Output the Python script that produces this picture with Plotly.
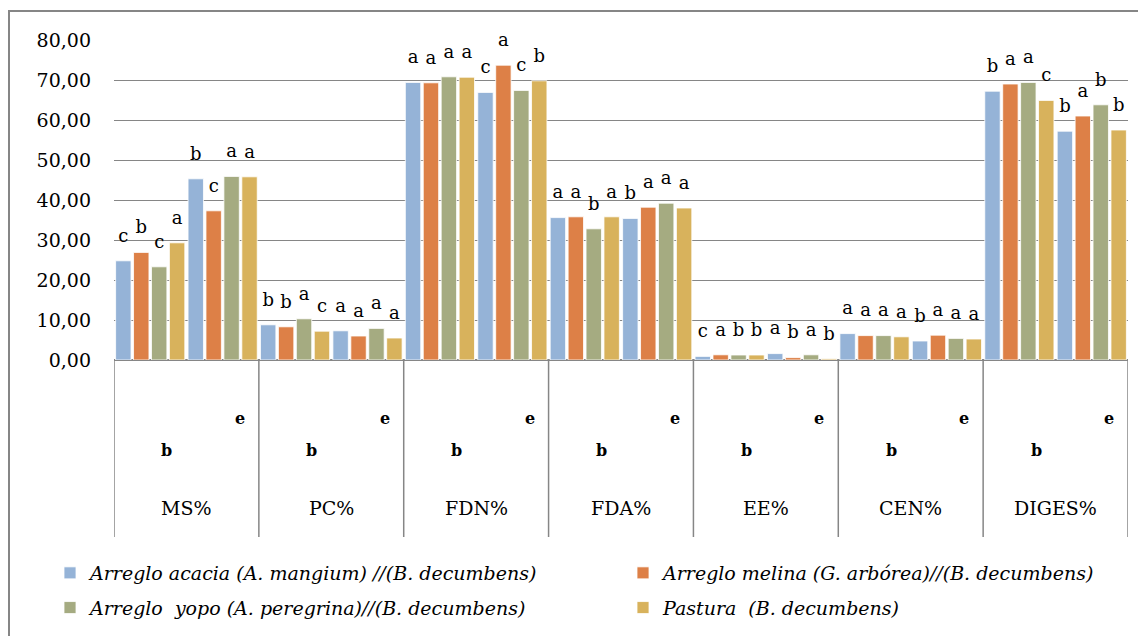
import plotly.graph_objects as go

# ---------------- data ----------------
categories = ["MS%", "PC%", "FDN%", "FDA%", "EE%", "CEN%", "DIGES%"]
periods = ["I", "II"]
series_names = [
    "Arreglo acacia (A. mangium) //(B. decumbens)",
    "Arreglo melina (G. arbórea)//(B. decumbens)",
    "Arreglo  yopo (A. peregrina)//(B. decumbens)",
    "Pastura  (B. decumbens)",
]
series_colors = ["#95B3D7", "#DD8047", "#A5AB81", "#D8B25C"]

# values per slot: MS I, MS II, PC I, PC II, ...
acacia = [24.8, 45.3, 8.8, 7.3, 69.4, 66.9, 35.6, 35.4, 0.9, 1.6, 6.6, 4.75, 67.2, 57.2]
melina = [26.9, 37.3, 8.3, 6.0, 69.3, 73.7, 35.8, 38.2, 1.3, 0.6, 6.1, 6.2, 69.0, 61.0]
yopo = [23.3, 45.9, 10.3, 7.9, 70.8, 67.4, 32.8, 39.2, 1.25, 1.3, 6.1, 5.4, 69.4, 63.8]
pastura = [29.3, 45.8, 7.2, 5.5, 70.7, 69.8, 35.8, 38.0, 1.25, 0.3, 5.8, 5.25, 64.9, 57.5]

acacia_letters = ["c", "b", "b", "a", "a", "c", "a", "b", "c", "a", "a", "b", "b", "b"]
melina_letters = ["b", "c", "b", "a", "a", "a", "a", "a", "a", "b", "a", "a", "a", "a"]
yopo_letters = ["c", "a", "a", "a", "a", "c", "b", "a", "b", "a", "a", "a", "a", "b"]
pastura_letters = ["a", "a", "c", "a", "a", "b", "a", "a", "b", "b", "a", "a", "c", "b"]

sub_labels = ["b", "e"]

y_tickvals = [0, 10, 20, 30, 40, 50, 60, 70, 80]
y_ticktext = ["0,00", "10,00", "20,00", "30,00", "40,00", "50,00", "60,00", "70,00", "80,00"]

slots = [f"{c} {p}" for c in categories for p in periods]
all_values = [acacia, melina, yopo, pastura]
all_letters = [acacia_letters, melina_letters, yopo_letters, pastura_letters]

SERIF = "DejaVu Serif"
GREY = "#868686"

# page offset (body margin) compensation
OFF = 8
W, H = 1146 - OFF, 636 - OFF
L, T = 114 - OFF, 40 - OFF
R = 1146 - 1128
B = 636 - 360
pw, ph = W - L - R, H - T - B


def px_x(page_px):
    return (page_px - OFF - L) / pw


def px_y(page_py):
    return (T + ph - (page_py - OFF)) / ph


fig = go.Figure()
legends = ["legend", "legend2", "legend", "legend2"]
for i, (name, color, vals, letters) in enumerate(zip(series_names, series_colors, all_values, all_letters)):
    fig.add_trace(go.Bar(
        x=slots, y=vals, name=name, offsetgroup=f"g{i}",
        marker=dict(color=color, line=dict(color="white", width=0.8)),
        legend=legends[i], legendgroup=f"lg{i}",
        hoverinfo="x+y+name",
    ))
for i, (vals, letters) in enumerate(zip(all_values, all_letters)):
    fig.add_trace(go.Scatter(
        x=slots, y=vals, offsetgroup=f"g{i}", mode="markers+text",
        text=letters, textposition="top center",
        marker=dict(size=22, opacity=0, color="black"),
        textfont=dict(family=SERIF, size=18, color="black"),
        showlegend=False, hoverinfo="skip", cliponaxis=False,
    ))

shapes = []
# outer frame
shapes.append(dict(type="rect", xref="paper", yref="paper",
                   x0=px_x(9), x1=px_x(1170), y0=px_y(660), y1=px_y(11),
                   line=dict(color=GREY, width=2), layer="below"))
# table vertical lines below the axis
for k in range(len(categories) + 1):
    xb = -0.5 + 2 * k
    shapes.append(dict(type="line", xref="x", yref="paper",
                       x0=xb, x1=xb, y0=0, y1=px_y(537),
                       line=dict(color=GREY, width=1.5)))

annotations = []
for k, c in enumerate(categories):
    annotations.append(dict(x=2 * k + 0.5, y=px_y(508), xref="x", yref="paper",
                            xanchor="center", yanchor="middle",
                            text=c, showarrow=False,
                            font=dict(family=SERIF, size=19, color="black")))
    # sub-level labels
    annotations.append(dict(x=2 * k + 0.23, y=px_y(450), xref="x", yref="paper",
                            xanchor="center", yanchor="middle",
                            text=f"<b>{sub_labels[0]}</b>", showarrow=False,
                            font=dict(family=SERIF, size=16, color="black")))
    annotations.append(dict(x=2 * k + 1.24, y=px_y(418), xref="x", yref="paper",
                            xanchor="center", yanchor="middle",
                            text=f"<b>{sub_labels[1]}</b>", showarrow=False,
                            font=dict(family=SERIF, size=16, color="black")))

legend_font = dict(family=SERIF, size=19, color="black", style="italic")
fig.update_layout(
    width=W, height=H,
    margin=dict(l=L, r=R, t=T, b=B, autoexpand=False),
    paper_bgcolor="white", plot_bgcolor="white",
    barmode="group", bargap=0.01, bargroupgap=0.14,
    scattermode="group", scattergap=0.01,
    font=dict(family=SERIF, size=19, color="black"),
    xaxis=dict(type="category", categoryorder="array", categoryarray=slots,
               range=[-0.5, len(slots) - 0.5],
               showticklabels=False, showgrid=False, zeroline=False,
               showline=False, ticks=""),
    yaxis=dict(range=[0, 80], tickvals=y_tickvals, ticktext=y_ticktext,
               showgrid=True, gridcolor=GREY, gridwidth=1.3,
               zeroline=True, zerolinecolor=GREY, zerolinewidth=1.5,
               showline=False, ticks="", ticklabelstandoff=22,
               tickfont=dict(family=SERIF, size=19, color="black")),
    showlegend=True,
    legend=dict(orientation="v", x=px_x(50), y=px_y(554), xanchor="left", yanchor="top",
                bgcolor="rgba(0,0,0,0)", borderwidth=0, font=legend_font,
                traceorder="grouped", tracegroupgap=7),
    legend2=dict(orientation="v", x=px_x(623), y=px_y(554), xanchor="left", yanchor="top",
                 bgcolor="rgba(0,0,0,0)", borderwidth=0, font=legend_font,
                 traceorder="grouped", tracegroupgap=7),
    shapes=shapes, annotations=annotations,
)

fig.write_html("out.html")
